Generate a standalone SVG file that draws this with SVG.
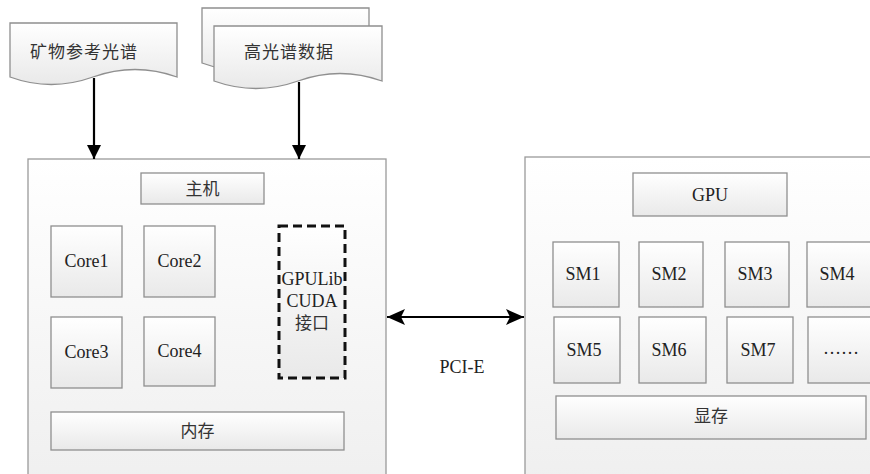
<svg xmlns="http://www.w3.org/2000/svg" width="870" height="474" viewBox="0 0 870 474">
<defs>
<linearGradient id="g" x1="0" y1="0" x2="0" y2="1"><stop offset="0" stop-color="#ffffff"/><stop offset="1" stop-color="#e9e9e9"/></linearGradient>
<linearGradient id="gb" x1="0" y1="0" x2="0" y2="1"><stop offset="0" stop-color="#ffffff"/><stop offset="1" stop-color="#efefef"/></linearGradient>
<marker id="ah" viewBox="0 0 14 14" refX="14" refY="7" markerWidth="14" markerHeight="14" markerUnits="userSpaceOnUse" orient="auto-start-reverse"><path d="M0,0 L14,7 L0,14 Z" fill="#000"/></marker>
<marker id="ah2" viewBox="0 0 18 16" refX="18" refY="8" markerWidth="18" markerHeight="16" markerUnits="userSpaceOnUse" orient="auto-start-reverse"><path d="M0,0 L18,8 L0,16 L4,8 Z" fill="#000"/></marker>
</defs>
<style>
.box{fill:url(#g);stroke:#8f8f8f;stroke-width:1.3}
.big{fill:url(#gb);stroke:#9a9a9a;stroke-width:1.3}
.dash{fill:url(#g);stroke:#111;stroke-width:3;stroke-dasharray:9 5}
.t{font-family:'Liberation Serif','DejaVu Serif',serif;font-size:18px;fill:#222;text-anchor:middle}
.c{font-family:'Noto Sans CJK SC','Noto Sans CJK JP',sans-serif;font-size:17px;fill:#333;text-anchor:middle}
.con{stroke:#000;stroke-width:2.2;fill:none}
</style>
<g id="doc-mineral">
<path class="box" d="M10,23 H177 V77 Q135,62 93,77 T10,77 Z"/>
<text class="c" x="84" y="58" letter-spacing="1">矿物参考光谱</text>
</g>
<g id="doc-hyper">
<path class="box" d="M202,8 H369 V63 Q327,48 285,63 T202,63 Z"/>
<path class="box" d="M214,26 H382 V81 Q340,66 298,81 T214,81 Z"/>
<text class="c" x="289" y="58" letter-spacing="1">高光谱数据</text>
</g>
<g id="host">
<rect class="big" x="28" y="159" width="358" height="330"/>
</g>
<g id="host-label"><rect class="box" x="141" y="173" width="123" height="31"/><text class="c" x="202.5" y="195">主机</text></g>
<g id="core1"><rect class="box" x="51" y="226" width="71" height="71"/><text class="t" x="86.5" y="267">Core1</text></g>
<g id="core2"><rect class="box" x="144" y="226" width="71" height="71"/><text class="t" x="179.5" y="267">Core2</text></g>
<g id="core3"><rect class="box" x="51" y="317" width="71" height="71"/><text class="t" x="86.5" y="358">Core3</text></g>
<g id="core4"><rect class="box" x="144" y="317" width="71" height="69"/><text class="t" x="179.5" y="357">Core4</text></g>
<g id="gpulib"><rect class="dash" x="279" y="226" width="66" height="152"/>
<text class="t" x="312" y="285">GPULib</text><text class="t" x="312" y="307">CUDA</text><text class="c" x="312" y="329">接口</text></g>
<g id="mem"><rect class="box" x="51" y="412" width="293" height="38"/><text class="c" x="197.5" y="437">内存</text></g>
<g id="gpu">
<rect class="big" x="525" y="157" width="360" height="330"/>
</g>
<g id="gpu-label"><rect class="box" x="633" y="173" width="154" height="43"/><text class="t" x="710" y="201">GPU</text></g>
<g id="sm1"><rect class="box" x="553" y="242" width="66" height="65"/><text class="t" x="583" y="280">SM1</text></g>
<g id="sm2"><rect class="box" x="639" y="242" width="64" height="65"/><text class="t" x="669" y="280">SM2</text></g>
<g id="sm3"><rect class="box" x="725" y="242" width="64" height="65"/><text class="t" x="755" y="280">SM3</text></g>
<g id="sm4"><rect class="box" x="807" y="242" width="80" height="65"/><text class="t" x="837" y="280">SM4</text></g>
<g id="sm5"><rect class="box" x="554" y="317" width="66" height="66"/><text class="t" x="584" y="356">SM5</text></g>
<g id="sm6"><rect class="box" x="639" y="317" width="67" height="66"/><text class="t" x="669" y="356">SM6</text></g>
<g id="sm7"><rect class="box" x="727" y="317" width="66" height="66"/><text class="t" x="758" y="356">SM7</text></g>
<g id="smn"><rect class="box" x="808" y="317" width="80" height="66"/><text class="t" x="841" y="354">……</text></g>
<g id="vram"><rect class="box" x="556" y="396" width="310" height="43"/><text class="c" x="711" y="422">显存</text></g>
<g id="connectors">
<line class="con" x1="94" y1="78" x2="94" y2="159" marker-end="url(#ah)"/>
<line class="con" x1="299" y1="82" x2="299" y2="159" marker-end="url(#ah)"/>
<line class="con" x1="387" y1="317" x2="524" y2="317" marker-start="url(#ah2)" marker-end="url(#ah2)"/>
<text class="t" x="462" y="373">PCI-E</text>
</g>
</svg>
